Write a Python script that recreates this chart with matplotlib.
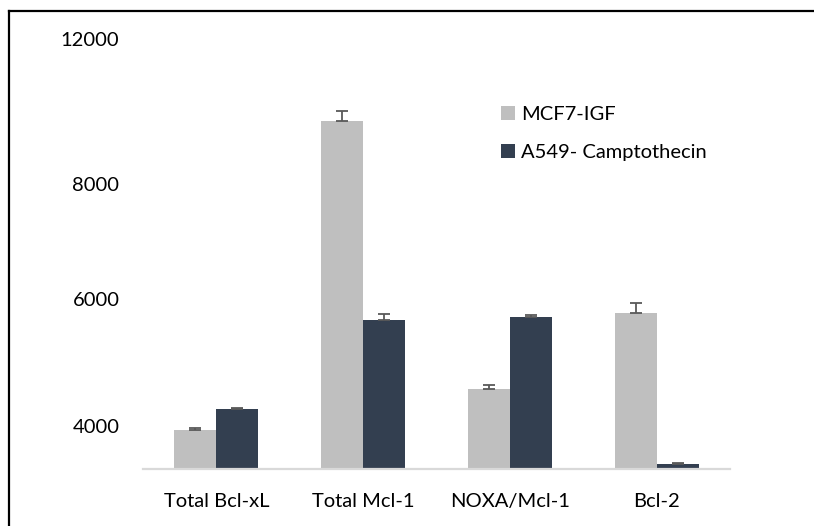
import numpy as np
import matplotlib
matplotlib.use('Agg')
import matplotlib.pyplot as plt
from matplotlib.lines import Line2D

plt.rcParams['font.family'] = ['Lato', 'DejaVu Sans']

# Data
categories = ['Total Bcl-xL', 'Total Mcl-1', 'NOXA/Mcl-1', 'Bcl-2']
series_names = ['MCF7-IGF', 'A549- Camptothecin']
mcf7 = [3930, 9046, 4609, 5868]
mcf7_err = [38, 166, 66, 171]
a549 = [4278, 5752, 5801, 3368]
a549_err = [22, 99, 28, 17]
ytick_pos = [4000, 6096, 8000, 10400]
ytick_labels = ['4000', '6000', '8000', '12000']

W, H = 814, 526
fig = plt.figure(figsize=(W/100, H/100), dpi=100)
# axes placed in pixel terms
left, right, top, bottom = 143, 730, 39.2, 469.3
ax = fig.add_axes([left/W, 1 - bottom/H, (right-left)/W, (bottom-top)/H])

x = np.arange(len(categories))
bw = 0.286
err_kw = dict(ecolor='#595959', elinewidth=1.3, capsize=4.3, capthick=1.3)
ax.bar(x - bw/2, mcf7, bw, color='#BFBFBF', label=series_names[0],
       yerr=[np.zeros(4), mcf7_err], error_kw=err_kw, zorder=2)
ax.bar(x + bw/2, a549, bw, color='#333F50', label=series_names[1],
       yerr=[np.zeros(4), a549_err], error_kw=err_kw, zorder=2)

ax.set_xlim(-0.5, 3.5)
ax.set_ylim(3280, 10400)
ax.set_xticks(x)
ax.set_xticklabels(categories, fontsize=14.5)
ax.set_yticks(ytick_pos)
ax.set_yticklabels(ytick_labels, fontsize=14.5)
ax.tick_params(axis='both', length=0)
ax.tick_params(axis='y', pad=17)
ax.tick_params(axis='x', pad=17)

for s in ['top', 'right', 'left']:
    ax.spines[s].set_visible(False)
ax.spines['bottom'].set_color('#D9D9D9')
ax.spines['bottom'].set_linewidth(1.6)
ax.spines['bottom'].set_zorder(3)

leg = ax.legend(loc='upper left', bbox_to_anchor=((493-left)/(right-left), 1 - (98-top)/(bottom-top)),
                frameon=False, fontsize=14.5, handlelength=0.7, handleheight=0.7,
                handletextpad=0.3, labelspacing=1.05, borderaxespad=0)

# outer frame (only the top and left edges fall inside the picture)
fig.add_artist(Line2D([9/W, 9/W], [0, 1 - 11/H], color='black', lw=1.6))
fig.add_artist(Line2D([9/W, 1], [1 - 11/H, 1 - 11/H], color='black', lw=1.6))

plt.savefig('out.png', dpi=100)
